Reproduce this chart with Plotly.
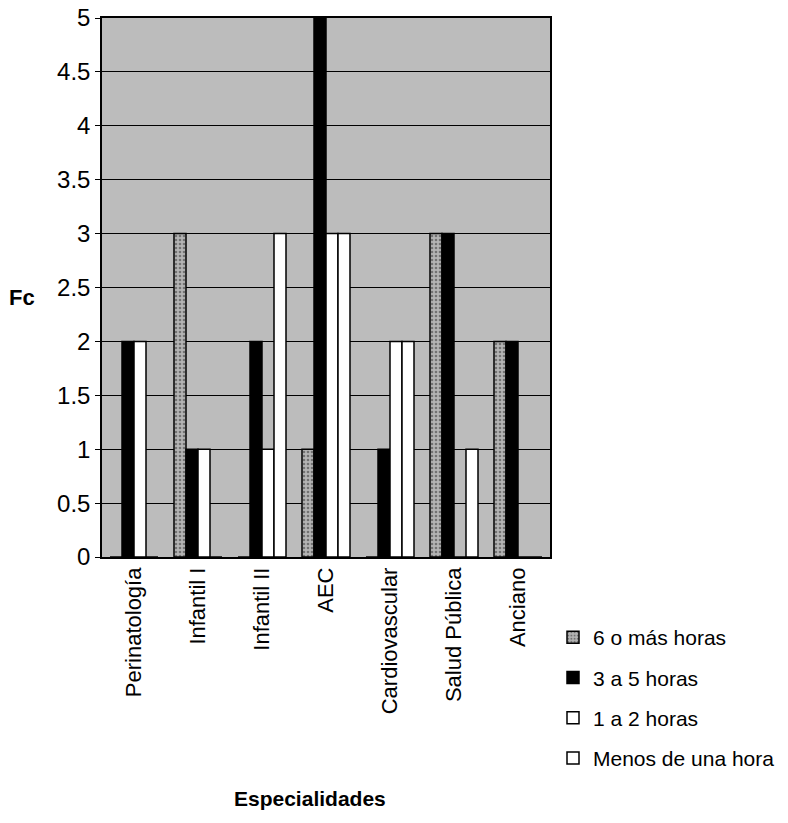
import plotly.graph_objects as go

categories = ["Perinatología", "Infantil I", "Infantil II", "AEC", "Cardiovascular", "Salud Pública", "Anciano"]
seis_o_mas = [0, 3, 0, 1, 0, 3, 2]
tres_a_cinco = [2, 1, 2, 5, 1, 3, 2]
uno_a_dos = [2, 1, 1, 3, 2, 0, 0]
menos_de_una = [0, 0, 3, 3, 2, 1, 0]
series_names = ["6 o más horas", "3 a 5 horas", "1 a 2 horas", "Menos de una hora"]
y_ticks = [0, 0.5, 1, 1.5, 2, 2.5, 3, 3.5, 4, 4.5, 5]
y_tick_text = ["0", "0.5", "1", "1.5", "2", "2.5", "3", "3.5", "4", "4.5", "5"]

FONT = "Liberation Sans, Arial, Helvetica, sans-serif"

W, H = 788, 823
ML, MR, MT, MB = 102, 238, 18, 266
PW, PH = W - ML - MR, H - MT - MB


def px_to_paper(px, py):
    return (px - ML) / PW, (H - MB - py) / PH


fig = go.Figure()
styles = [
    dict(color="#a8a8a8", pattern=dict(shape=".", fgcolor="#303030", bgcolor="#b4b4b4", size=4, solidity=0.35)),
    dict(color="#000000"),
    dict(color="#ffffff"),
    dict(color="#ffffff"),
]
for i, (name, vals) in enumerate(zip(series_names, [seis_o_mas, tres_a_cinco, uno_a_dos, menos_de_una])):
    m = dict(styles[i])
    m["line"] = dict(color="#000000", width=1.5)
    fig.add_trace(go.Bar(x=categories, y=vals, name=name, marker=m, legendgroup=str(i)))

lx, ly = px_to_paper(553, 617)
fc_x, fc_y = px_to_paper(22, 297)
xt_x, xt_y = px_to_paper(310, 798)

fig.update_layout(
    width=W, height=H,
    margin=dict(l=ML, r=MR, t=MT, b=MB, autoexpand=False),
    paper_bgcolor="#ffffff",
    plot_bgcolor="#bcbcbc",
    barmode="group",
    bargap=0.25,
    bargroupgap=0,
    font=dict(family=FONT, size=21, color="#000000"),
    showlegend=True,
    legend=dict(
        x=lx, y=ly, xanchor="left", yanchor="top",
        traceorder="grouped", tracegroupgap=10,
        font=dict(size=21, family=FONT),
        itemwidth=30, bgcolor="rgba(0,0,0,0)",
    ),
    xaxis=dict(
        tickangle=-90, tickfont=dict(size=22, family=FONT),
        showline=True, linecolor="#000000", linewidth=1.5, mirror=True,
        ticks="", showgrid=False, automargin=False,
    ),
    yaxis=dict(
        range=[0, 5], tickvals=y_ticks, ticktext=y_tick_text,
        ticks="outside", ticklen=5, tickcolor="#000000",
        tickfont=dict(size=24, family=FONT),
        showgrid=True, gridcolor="#000000", gridwidth=1,
        showline=True, linecolor="#000000", linewidth=1.5, mirror=True,
        zeroline=False, automargin=False,
    ),
    annotations=[
        dict(text="<b>Fc</b>", x=fc_x, y=fc_y, xref="paper", yref="paper", showarrow=False,
             xanchor="center", yanchor="middle", font=dict(size=22, family=FONT)),
        dict(text="<b>Especialidades</b>", x=xt_x, y=xt_y, xref="paper", yref="paper", showarrow=False,
             xanchor="center", yanchor="middle", font=dict(size=21, family=FONT)),
    ],
)

fig.write_html("out.html")
